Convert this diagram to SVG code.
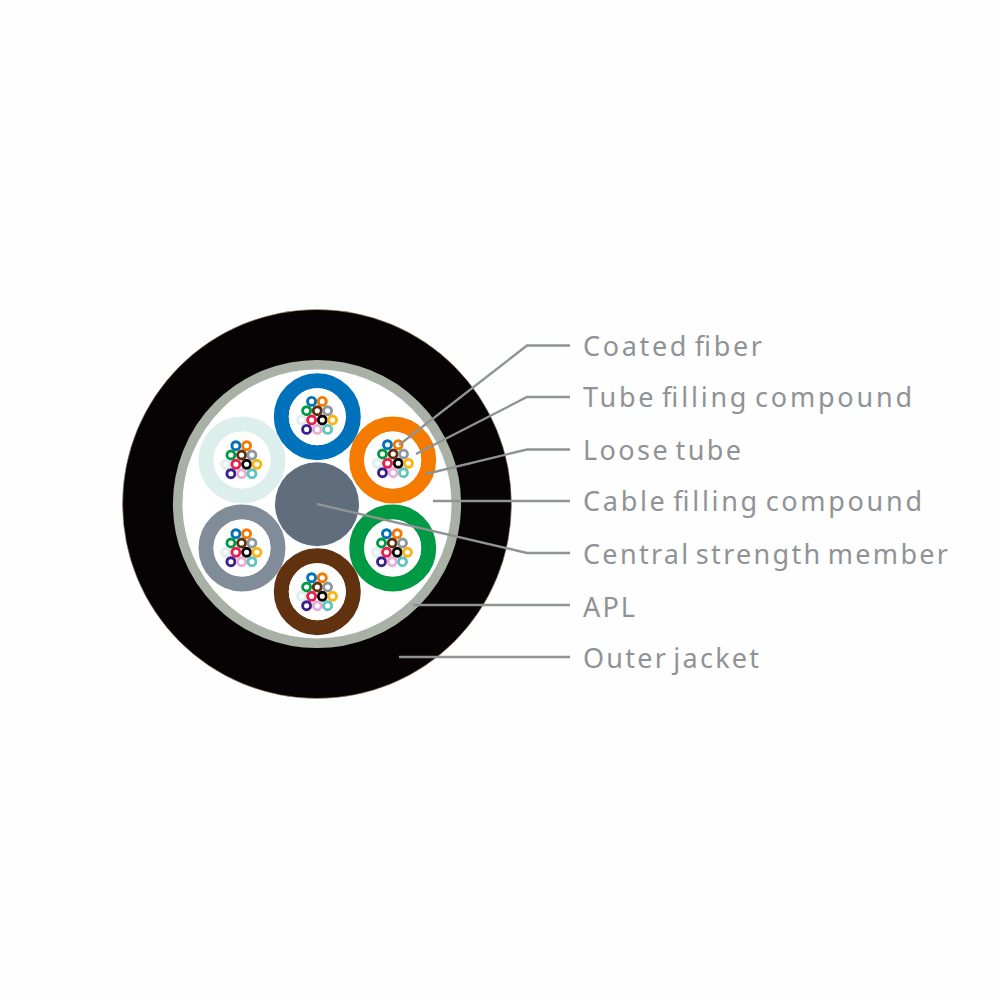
<svg xmlns="http://www.w3.org/2000/svg" width="1000" height="1000" viewBox="0 0 1000 1000">
<style>
.tube{fill:none;stroke-width:15}
.core{fill:#fff}
.f{fill:#fff;stroke-width:2.9}
.lead{fill:none;stroke:#8f9394;stroke-width:2.4}
.lbl{font-family:"Noto Sans","Open Sans",sans-serif;font-size:27px;fill:#8f9396;word-spacing:-4px}
</style>
<defs>
<g id="fibers">
<circle class="f" cx="-5.7" cy="-15.3" r="4" stroke="#0072bc"/>
<circle class="f" cx="5" cy="-15.3" r="4" stroke="#f47b00"/>
<circle class="f" cx="-10.7" cy="-6" r="4" stroke="#009a44"/>
<circle class="f" cx="0" cy="-6" r="4" stroke="#603210"/>
<circle class="f" cx="10.3" cy="-6" r="4" stroke="#8d97a3"/>
<circle class="f" cx="-15.7" cy="3.3" r="4" stroke="#dcefec"/>
<circle class="f" cx="-5.7" cy="3.3" r="4" stroke="#e8204f"/>
<circle class="f" cx="5" cy="3.3" r="4" stroke="#0a0505"/>
<circle class="f" cx="15.3" cy="3.3" r="4" stroke="#fbb316"/>
<circle class="f" cx="-10.7" cy="12.7" r="4" stroke="#3b1f8f"/>
<circle class="f" cx="0" cy="12.7" r="4" stroke="#e7aed4"/>
<circle class="f" cx="10.3" cy="12.7" r="4" stroke="#62c5bd"/>
</g>
</defs>
<rect width="1000" height="1000" fill="#fefefe"/>
<g id="outer-jacket"><circle cx="317" cy="504" r="194.5" fill="#070203" stroke="#b9a27a" stroke-width="0.6"/></g>
<g id="apl"><circle cx="317" cy="504" r="139.3" fill="#fff" stroke="#a9b1a6" stroke-width="9.6"/></g>
<g id="central-member"><circle cx="317" cy="504.3" r="42" fill="#5f6d7c"/></g>
<g id="tube-blue"><circle class="tube" cx="317.3" cy="416.7" r="36" stroke="#0072bc"/><circle class="core" cx="317.3" cy="416.7" r="28.5"/><use href="#fibers" x="317.3" y="416.7"/></g>
<g id="tube-orange"><circle class="tube" cx="392.7" cy="460" r="36" stroke="#f47b00"/><circle class="core" cx="392.7" cy="460" r="28.5"/><use href="#fibers" x="393.2" y="460"/></g>
<g id="tube-green"><circle class="tube" cx="392.7" cy="548" r="36" stroke="#009a44"/><circle class="core" cx="392.7" cy="548" r="28.5"/><use href="#fibers" x="392.2" y="549"/></g>
<g id="tube-brown"><circle class="tube" cx="317.3" cy="591.7" r="36" stroke="#603210"/><circle class="core" cx="317.3" cy="591.7" r="28.5"/><use href="#fibers" x="317.3" y="593"/></g>
<g id="tube-gray"><circle class="tube" cx="242" cy="548" r="36" stroke="#818c99"/><circle class="core" cx="242" cy="548" r="28.5"/><use href="#fibers" x="241.6" y="549"/></g>
<g id="tube-pale"><circle class="tube" cx="242" cy="460" r="36" stroke="#dcefec"/><circle class="core" cx="242" cy="460" r="28.5"/><use href="#fibers" x="241.6" y="461"/></g>
<g id="connectors">
<path class="lead" d="M399 445L527 345.500H570"/>
<path class="lead" d="M416 454L527 397H570"/>
<path class="lead" d="M426 474L527 449.500H570"/>
<path class="lead" d="M433 501H570"/>
<path class="lead" d="M317 504L527 553H570"/>
<path class="lead" d="M413 605H570"/>
<path class="lead" d="M399 657H570"/>
</g>
<g id="labels">
<text class="lbl" x="583" y="355.500" textLength="179">Coated fiber</text>
<text class="lbl" x="583" y="406.500" textLength="329">Tube filling compound</text>
<text class="lbl" x="583" y="459.500" textLength="158">Loose tube</text>
<text class="lbl" x="583" y="511" textLength="339">Cable filling compound</text>
<text class="lbl" x="583" y="563.500" textLength="365">Central strength member</text>
<text class="lbl" x="583" y="616.500" textLength="52">APL</text>
<text class="lbl" x="583" y="668" textLength="176">Outer jacket</text>
</g>
</svg>
